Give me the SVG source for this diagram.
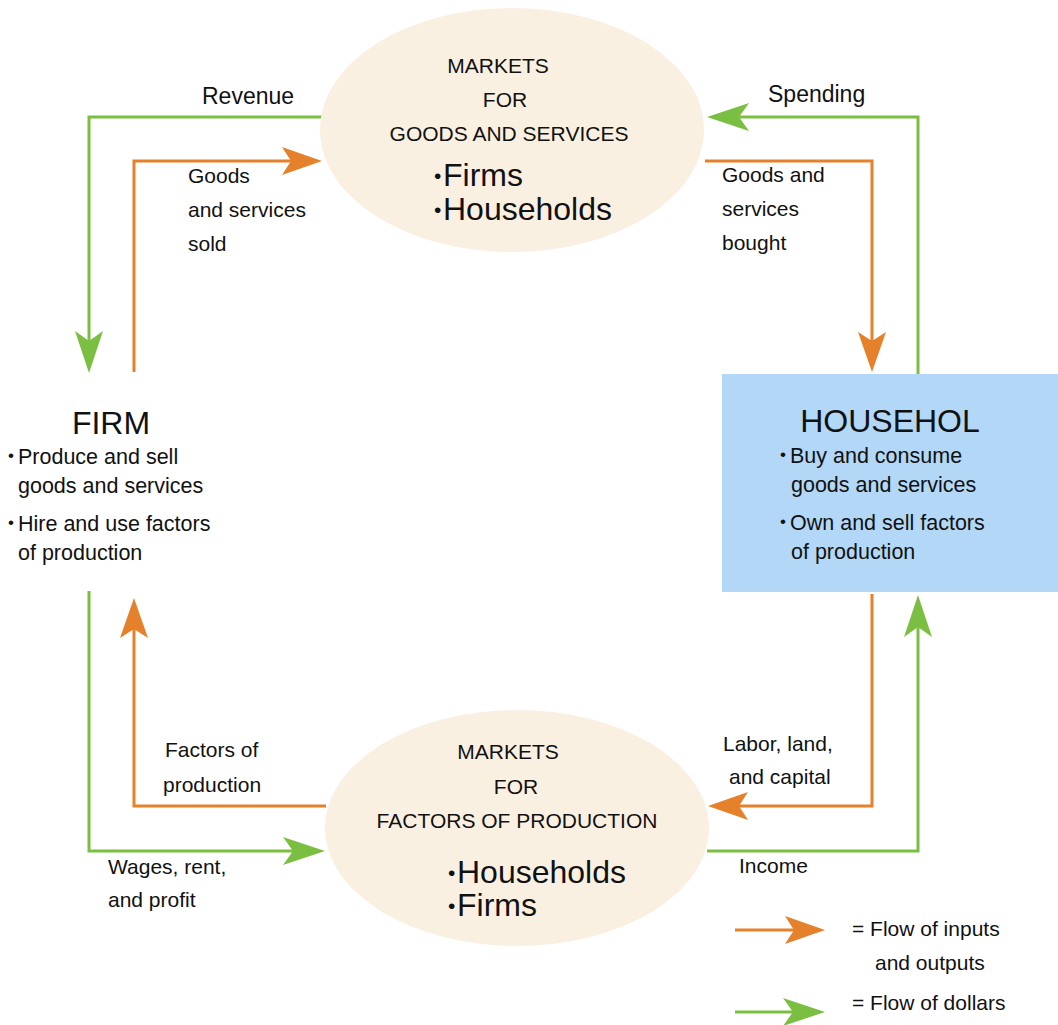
<svg xmlns="http://www.w3.org/2000/svg" width="1058" height="1025" viewBox="0 0 1058 1025">
<style>
text{font-family:"Liberation Sans",Arial,sans-serif;fill:#111}
.s{font-size:21px}
.m{font-size:21.5px}
.r{font-size:23px}
.b{font-size:32px}
.t{font-size:32px}
.d{font-size:17px}
.D{font-size:21px}
.og{fill:none;stroke:#e5812b;stroke-width:3}
.gr{fill:none;stroke:#7bbf42;stroke-width:3}
.ell{fill:#faf0e2}
</style>
<defs>
<marker id="ao" viewBox="-42 -16 44 32" refX="-10" refY="0" markerWidth="44" markerHeight="32" markerUnits="userSpaceOnUse" orient="auto">
<path d="M0,0 L-40,-14 L-31,0 L-40,14 Z" fill="#e5812b"/>
</marker>
<marker id="ag" viewBox="-42 -16 44 32" refX="-10" refY="0" markerWidth="44" markerHeight="32" markerUnits="userSpaceOnUse" orient="auto">
<path d="M0,0 L-42,-14 L-32,0 L-42,14 Z" fill="#7bbf42"/>
</marker>
</defs>
<rect width="1058" height="1025" fill="#fff"/>
<g id="connectors">
<path class="gr" d="M324,117 H89 V363" marker-end="url(#ag)"/>
<path class="og" d="M134,372 V161 H312" marker-end="url(#ao)"/>
<path class="gr" d="M918,374 V117 H717" marker-end="url(#ag)"/>
<path class="og" d="M705,161 H872 V362" marker-end="url(#ao)"/>
<path class="og" d="M872,594 V806 H718" marker-end="url(#ao)"/>
<path class="gr" d="M707,851 H918 V605" marker-end="url(#ag)"/>
<path class="og" d="M326,806 H134 V608" marker-end="url(#ao)"/>
<path class="gr" d="M89,591 V851 H315" marker-end="url(#ag)"/>
<text class="r" x="202" y="104">Revenue</text>
<text class="r" x="768" y="102">Spending</text>
<text class="s" x="188" y="183">Goods</text>
<text class="s" x="188" y="217">and services</text>
<text class="s" x="188" y="251">sold</text>
<text class="s" x="722" y="182">Goods and</text>
<text class="s" x="722" y="216">services</text>
<text class="s" x="722" y="250">bought</text>
<text class="s" x="165" y="757">Factors of</text>
<text class="s" x="163" y="792">production</text>
<text class="s" x="723" y="751">Labor, land,</text>
<text class="s" x="729" y="784">and capital</text>
<text class="s" x="108" y="874">Wages, rent,</text>
<text class="s" x="108" y="907">and profit</text>
<text class="s" x="739" y="873">Income</text>
</g>
<g id="markets-goods">
<ellipse class="ell" cx="512" cy="130" rx="192" ry="122"/>
<text class="s" x="498" y="73" text-anchor="middle">MARKETS</text>
<text class="s" x="505" y="107" text-anchor="middle">FOR</text>
<text class="s" x="509" y="141" text-anchor="middle">GOODS AND SERVICES</text>
<text class="D" x="434" y="183">•</text>
<text class="b" x="443" y="186">Firms</text>
<text class="D" x="434" y="217">•</text>
<text class="b" x="443" y="220">Households</text>
</g>
<g id="markets-factors">
<ellipse class="ell" cx="517" cy="828" rx="192" ry="118"/>
<text class="s" x="508" y="759" text-anchor="middle">MARKETS</text>
<text class="s" x="516" y="794" text-anchor="middle">FOR</text>
<text class="s" x="517" y="828" text-anchor="middle">FACTORS OF PRODUCTION</text>
<text class="D" x="448" y="880">•</text>
<text class="b" x="457" y="883">Households</text>
<text class="D" x="448" y="913">•</text>
<text class="b" x="457" y="916">Firms</text>
</g>
<g id="firm">
<text class="t" x="111" y="434" text-anchor="middle">FIRM</text>
<text class="d" x="8" y="461">•</text>
<text class="m" x="18" y="464">Produce and sell</text>
<text class="m" x="18" y="493">goods and services</text>
<text class="d" x="8" y="528">•</text>
<text class="m" x="18" y="531">Hire and use factors</text>
<text class="m" x="18" y="560">of production</text>
</g>
<g id="households">
<rect x="722" y="374" width="336" height="218" fill="#b3d8f7"/>
<text class="t" x="890" y="432" text-anchor="middle">HOUSEHOL</text>
<text class="d" x="780" y="460">•</text>
<text class="m" x="790" y="463">Buy and consume</text>
<text class="m" x="791" y="492">goods and services</text>
<text class="d" x="780" y="527">•</text>
<text class="m" x="790" y="530">Own and sell factors</text>
<text class="m" x="791" y="559">of production</text>
</g>
<g id="legend">
<path class="og" d="M735,930 H815" marker-end="url(#ao)"/>
<path class="gr" d="M735,1012 H815" marker-end="url(#ag)"/>
<text class="s" x="852" y="936">= Flow of inputs</text>
<text class="s" x="875" y="970">and outputs</text>
<text class="s" x="852" y="1010">= Flow of dollars</text>
</g>
</svg>
